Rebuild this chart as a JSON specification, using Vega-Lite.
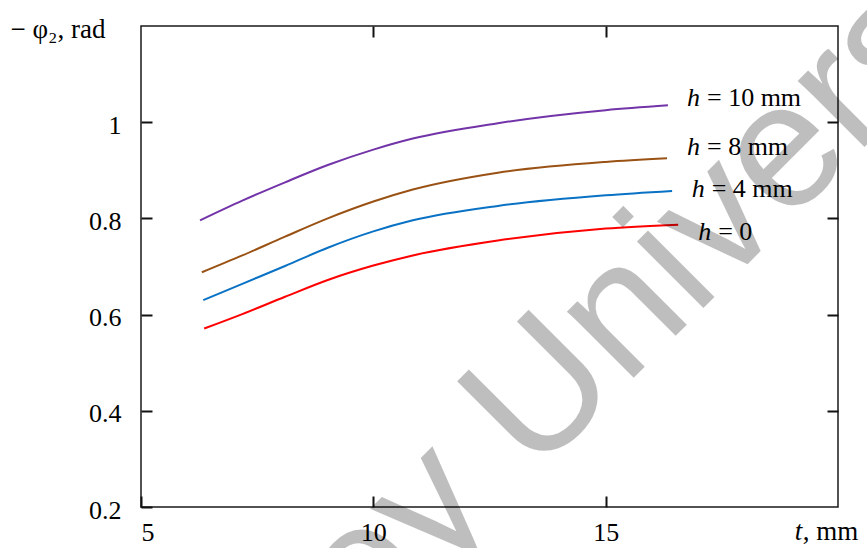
{
  "$schema": "https://vega.github.io/schema/vega-lite/v6.json",
  "width": 697,
  "height": 481,
  "autosize": {"type": "none"},
  "padding": {"left": 141, "top": 26, "right": 29, "bottom": 41},
  "background": "white",
  "config": {
    "view": {"stroke": "#1a1a1a", "strokeWidth": 1.5},
    "font": "Liberation Serif",
    "axis": {
      "grid": false,
      "domain": false,
      "tickColor": "#111",
      "tickWidth": 2,
      "tickSize": -11,
      "labelFont": "Liberation Serif",
      "labelFontSize": 26,
      "labelColor": "black",
      "titleFont": "Liberation Serif",
      "titleFontWeight": "normal",
      "titleFontSize": 27,
      "titleColor": "black"
    }
  },
  "datasets": {
    "curves": [
      {"t": 6.36, "v": 0.571, "h": "h = 0"},
      {"t": 7.18, "v": 0.601, "h": "h = 0"},
      {"t": 8.1, "v": 0.637, "h": "h = 0"},
      {"t": 9.02, "v": 0.672, "h": "h = 0"},
      {"t": 10, "v": 0.702, "h": "h = 0"},
      {"t": 10.85, "v": 0.723, "h": "h = 0"},
      {"t": 12.68, "v": 0.754, "h": "h = 0"},
      {"t": 15, "v": 0.779, "h": "h = 0"},
      {"t": 16.56, "v": 0.787, "h": "h = 0"},
      {"t": 6.34, "v": 0.63, "h": "h = 4 mm"},
      {"t": 7.18, "v": 0.664, "h": "h = 4 mm"},
      {"t": 8.1, "v": 0.701, "h": "h = 4 mm"},
      {"t": 9.02, "v": 0.739, "h": "h = 4 mm"},
      {"t": 10, "v": 0.773, "h": "h = 4 mm"},
      {"t": 10.85, "v": 0.796, "h": "h = 4 mm"},
      {"t": 12.68, "v": 0.826, "h": "h = 4 mm"},
      {"t": 15, "v": 0.848, "h": "h = 4 mm"},
      {"t": 16.43, "v": 0.857, "h": "h = 4 mm"},
      {"t": 6.31, "v": 0.688, "h": "h = 8 mm"},
      {"t": 7.18, "v": 0.723, "h": "h = 8 mm"},
      {"t": 8.1, "v": 0.762, "h": "h = 8 mm"},
      {"t": 9.02, "v": 0.800, "h": "h = 8 mm"},
      {"t": 10, "v": 0.835, "h": "h = 8 mm"},
      {"t": 10.85, "v": 0.860, "h": "h = 8 mm"},
      {"t": 12.68, "v": 0.895, "h": "h = 8 mm"},
      {"t": 15, "v": 0.9175, "h": "h = 8 mm"},
      {"t": 16.32, "v": 0.925, "h": "h = 8 mm"},
      {"t": 6.27, "v": 0.796, "h": "h = 10 mm"},
      {"t": 7.18, "v": 0.837, "h": "h = 10 mm"},
      {"t": 8.1, "v": 0.875, "h": "h = 10 mm"},
      {"t": 9.02, "v": 0.911, "h": "h = 10 mm"},
      {"t": 10, "v": 0.943, "h": "h = 10 mm"},
      {"t": 10.85, "v": 0.966, "h": "h = 10 mm"},
      {"t": 12.68, "v": 0.998, "h": "h = 10 mm"},
      {"t": 15, "v": 1.025, "h": "h = 10 mm"},
      {"t": 16.34, "v": 1.035, "h": "h = 10 mm"}
    ],
    "labels": [
      {"t": 16.75, "v": 1.0333, "sym": "h", "rest": "= 10 mm"},
      {"t": 16.75, "v": 0.9325, "sym": "h", "rest": "= 8 mm"},
      {"t": 16.85, "v": 0.8437, "sym": "h", "rest": "= 4 mm"},
      {"t": 16.99, "v": 0.7554, "sym": "h", "rest": "= 0"}
    ],
    "xtitle": [
      {"t": 19.07, "v": 0.13125, "sym": "t", "rest": ", mm"}
    ],
    "watermark": [
      {"t": 6.085, "v": -0.451, "text": "Wiley University"}
    ]
  },
  "layer": [
    {
      "data": {"name": "curves"},
      "mark": {"type": "line", "interpolate": "monotone", "strokeWidth": 2},
      "encoding": {
        "x": {
          "field": "t", "type": "quantitative",
          "scale": {"domain": [5, 20], "nice": false, "zero": false},
          "axis": {"orient": "bottom", "values": [5, 10, 15], "labelPadding": 23, "title": null}
        },
        "y": {
          "field": "v", "type": "quantitative",
          "scale": {"domain": [0.2, 1.2], "nice": false, "zero": false},
          "axis": {
            "orient": "left", "values": [0.2, 0.4, 0.6, 0.8, 1], "format": "~g", "labelPadding": 31, "labelOffset": 3,
            "title": "− φ₂, rad", "titleAngle": 0, "titleAlign": "left", "titleBaseline": "alphabetic",
            "titleX": -131, "titleY": 11
          }
        },
        "color": {
          "field": "h", "type": "nominal",
          "scale": {"domain": ["h = 0", "h = 4 mm", "h = 8 mm", "h = 10 mm"], "range": ["#ff0000", "#0a72c4", "#9a5214", "#7234a8"]},
          "legend": null
        }
      }
    },
    {
      "data": {"name": "labels"},
      "mark": {"type": "text", "align": "left", "baseline": "alphabetic", "font": "Liberation Serif", "fontStyle": "italic", "fontSize": 26, "color": "black"},
      "encoding": {
        "x": {"field": "t", "type": "quantitative", "scale": {"domain": [5, 20], "nice": false, "zero": false}, "axis": null},
        "y": {"field": "v", "type": "quantitative", "scale": {"domain": [0.2, 1.2], "nice": false, "zero": false}, "axis": null},
        "text": {"field": "sym"}
      }
    },
    {
      "data": {"name": "labels"},
      "mark": {"type": "text", "align": "left", "baseline": "alphabetic", "dx": 20, "font": "Liberation Serif", "fontSize": 26, "color": "black"},
      "encoding": {
        "x": {"field": "t", "type": "quantitative", "scale": {"domain": [5, 20], "nice": false, "zero": false}, "axis": null},
        "y": {"field": "v", "type": "quantitative", "scale": {"domain": [0.2, 1.2], "nice": false, "zero": false}, "axis": null},
        "text": {"field": "rest"}
      }
    },
    {
      "data": {"name": "xtitle"},
      "mark": {"type": "text", "align": "left", "baseline": "alphabetic", "font": "Liberation Serif", "fontStyle": "italic", "fontSize": 27, "color": "black"},
      "encoding": {
        "x": {"field": "t", "type": "quantitative", "scale": {"domain": [5, 20], "nice": false, "zero": false}, "axis": null},
        "y": {"field": "v", "type": "quantitative", "scale": {"domain": [0.2, 1.2], "nice": false, "zero": false}, "axis": null},
        "text": {"field": "sym"}
      }
    },
    {
      "data": {"name": "xtitle"},
      "mark": {"type": "text", "align": "left", "baseline": "alphabetic", "dx": 8, "font": "Liberation Serif", "fontSize": 27, "color": "black"},
      "encoding": {
        "x": {"field": "t", "type": "quantitative", "scale": {"domain": [5, 20], "nice": false, "zero": false}, "axis": null},
        "y": {"field": "v", "type": "quantitative", "scale": {"domain": [0.2, 1.2], "nice": false, "zero": false}, "axis": null},
        "text": {"field": "rest"}
      }
    },
    {
      "data": {"name": "watermark"},
      "mark": {"type": "text", "align": "left", "baseline": "alphabetic", "angle": -45, "font": "Liberation Sans", "fontSize": 178, "color": "black", "opacity": 0.25},
      "encoding": {
        "x": {
          "field": "t", "type": "quantitative", "scale": {"domain": [5, 20], "nice": false, "zero": false},
          "axis": {"orient": "top", "values": [10, 15], "labels": false, "title": null}
        },
        "y": {
          "field": "v", "type": "quantitative", "scale": {"domain": [0.2, 1.2], "nice": false, "zero": false},
          "axis": {"orient": "right", "values": [0.4, 0.6, 0.8, 1], "labels": false, "title": null}
        },
        "text": {"field": "text"}
      }
    }
  ],
  "resolve": {"axis": {"x": "independent", "y": "independent"}}
}
